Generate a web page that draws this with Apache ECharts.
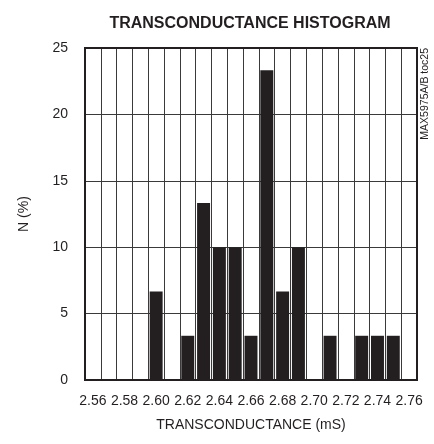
<!DOCTYPE html>
<html>
<head>
<meta charset="utf-8">
<script src="https://cdn.jsdelivr.net/npm/echarts@6/dist/echarts.min.js"></script>
<style>
  html, body { margin: 0; padding: 0; background: #fff; }
  #chart { width: 434px; height: 444px; }
</style>
</head>
<body>
<div id="chart"></div>
<script>
// bins of the histogram (mS), one column each
const categories = ['2.56', '2.57', '2.58', '2.59', '2.60', '2.61', '2.62', '2.63', '2.64', '2.65',
  '2.66', '2.67', '2.68', '2.69', '2.70', '2.71', '2.72', '2.73', '2.74', '2.75', '2.76'];
// percentage of units in each bin
const percent = [0, 0, 0, 0, 6.67, 0, 3.33, 13.33, 10, 10,
  3.33, 23.33, 6.67, 10, 0, 3.33, 0, 3.33, 3.33, 3.33, 0];
const yTicks = [0, 5, 10, 15, 20, 25];

const font = '"Liberation Sans Narrow", "Liberation Sans", Arial, sans-serif';
const ink = '#231f20';

const chart = echarts.init(document.getElementById('chart'));
chart.setOption({
  animation: false,
  title: {
    text: 'TRANSCONDUCTANCE HISTOGRAM',
    left: 245,
    top: 11,
    textAlign: 'center',
    textStyle: { fontFamily: font, fontWeight: 'bold', fontSize: 16, color: ink },
  },
  grid: {
    left: 85,
    top: 48,
    width: 332,
    height: 332,
    show: true,
    borderColor: ink,
    borderWidth: 2,
    z: 10,
  },
  xAxis: {
    type: 'category',
    data: categories,
    boundaryGap: true,
    axisLine: { show: false },
    axisTick: { show: false },
    axisLabel: {
      interval: 1,
      margin: 14,
      fontFamily: font,
      fontSize: 14,
      color: ink,
    },
    splitLine: {
      show: true,
      interval: 0,
      lineStyle: { color: '#3a3a3a', width: 1 },
    },
    name: 'TRANSCONDUCTANCE (mS)',
    nameLocation: 'middle',
    nameGap: 38,
    nameTextStyle: { fontFamily: font, fontSize: 14, color: ink },
  },
  yAxis: {
    type: 'value',
    min: yTicks[0],
    max: yTicks[yTicks.length - 1],
    interval: 5,
    axisLine: { show: false },
    axisTick: { show: false },
    axisLabel: {
      margin: 17,
      fontFamily: font,
      fontSize: 14,
      color: ink,
    },
    splitLine: { show: true, lineStyle: { color: '#3a3a3a', width: 1 } },
  },
  series: [{
    type: 'bar',
    data: percent,
    barCategoryGap: '18%',
    itemStyle: { color: ink },
    z: 5,
  }],
  graphic: [{
    // y axis title
    type: 'text',
    x: 24,
    y: 214,
    rotation: Math.PI / 2,
    style: {
      text: 'N (%)',
      fontFamily: font,
      fontSize: 14,
      fill: ink,
      align: 'center',
      verticalAlign: 'middle',
    },
  }, {
    type: 'text',
    x: 425,
    y: 48,
    rotation: Math.PI / 2,
    style: {
      text: 'MAX5975A/B toc25',
      fontFamily: font,
      fontSize: 10.5,
      fill: ink,
      align: 'right',
      verticalAlign: 'middle',
    },
  }],
});
</script>
</body>
</html>
